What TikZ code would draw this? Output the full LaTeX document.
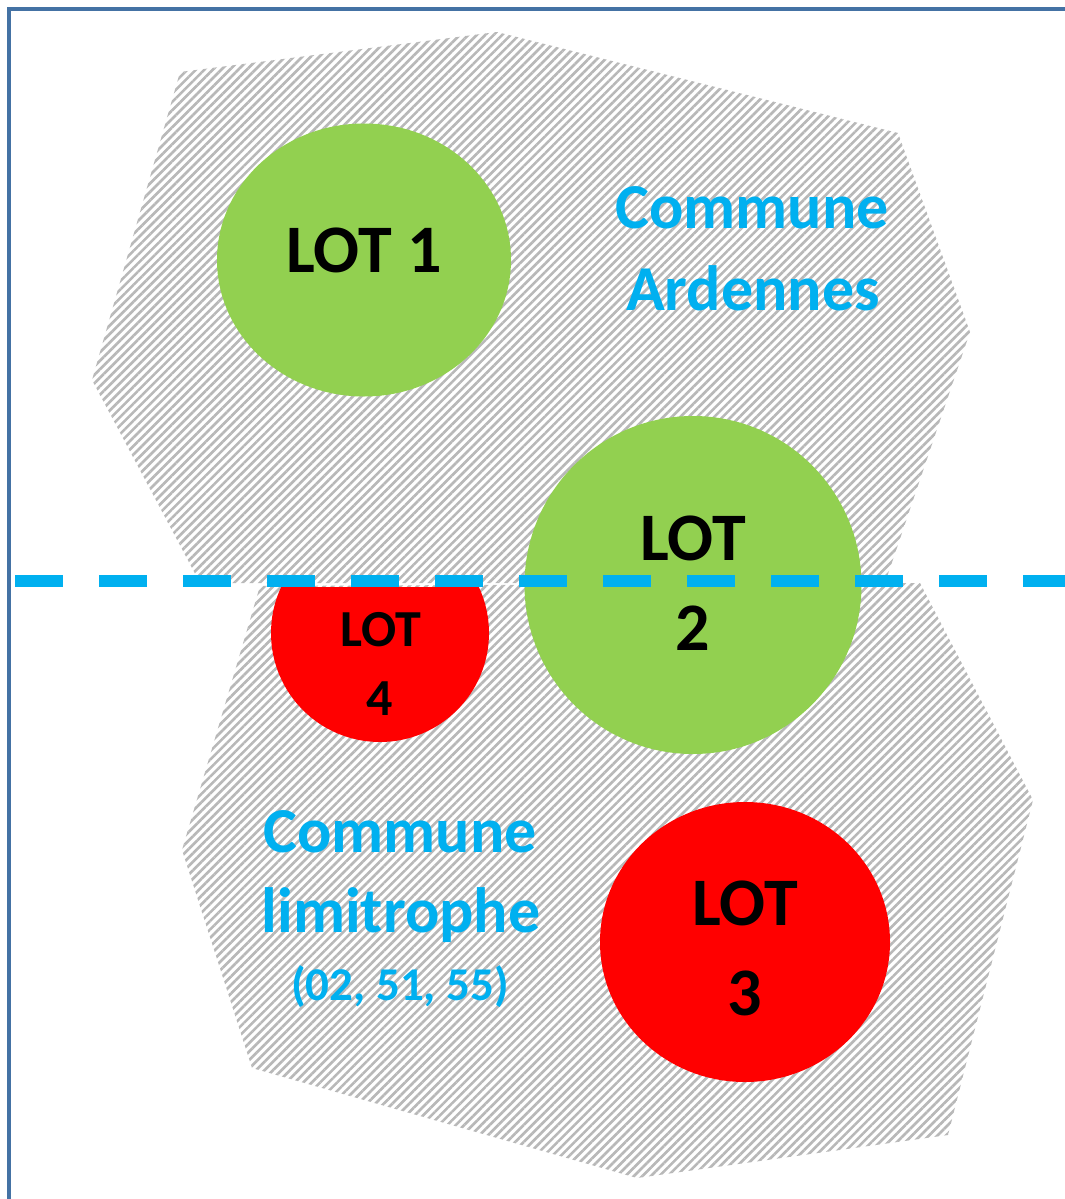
\documentclass[tikz,border=0pt]{standalone}
\usepackage{fontspec}
\setmainfont{Carlito}
\usetikzlibrary{patterns.meta,shapes.geometric}
\definecolor{frameblue}{RGB}{68,114,164}
\definecolor{lotgreen}{RGB}{146,208,80}
\definecolor{lotred}{RGB}{255,0,0}
\definecolor{cyanblue}{RGB}{0,176,240}
\begin{document}
\begin{tikzpicture}[x=1pt,y=-1pt,
  zone/.style={pattern={Lines[angle=45,distance=6pt,line width=2.6pt]},pattern color=black!28},
  lot/.style={ellipse,inner sep=0pt,draw=none},
  lottext/.style={anchor=base,font=\bfseries\fontsize{68}{80}\selectfont,text=black,inner sep=0pt},
  lotsmall/.style={anchor=base,font=\bfseries\fontsize{52}{60}\selectfont,text=black,inner sep=0pt},
  zonetext/.style={anchor=base,font=\bfseries\fontsize{64}{80}\selectfont,text=cyanblue,inner sep=0pt},
  zonesmall/.style={anchor=base,font=\bfseries\fontsize{47}{56}\selectfont,text=cyanblue,inner sep=0pt},
  sep/.style={draw=cyanblue,line width=12pt,dash pattern=on 48pt off 36pt}]
\useasboundingbox (0,0) rectangle (1065,1199);
\fill[white] (0,0) rectangle (1065,1199);
% frame
\coordinate (fa) at (9,1199);
\coordinate (fb) at (9,9);
\coordinate (fc) at (1065,9);
\draw[frameblue,line width=4pt] (fa) -- (fb) -- (fc);
% zones
\fill[zone] (180,72) -- (497,32) -- (898,133) -- (970,332) -- (885,583) -- (200,583) -- (92,380) -- cycle;
\fill[zone] (260,586) -- (920,583) -- (1033,800) -- (948,1135) -- (637,1178) -- (252,1068) -- (182,850) -- cycle;
% lots
\node[lot,fill=lotgreen,minimum width=294pt,minimum height=273pt] (lot1) at (364,260) {};
\node[lot,fill=lotgreen,minimum width=337pt,minimum height=338pt] (lot2) at (693,585) {};
\node[lot,fill=lotred,minimum width=290pt,minimum height=280pt] (lot3) at (745,942) {};
\begin{scope}
\clip (0,587) rectangle (1065,1199);
\node[lot,fill=lotred,minimum width=218pt,minimum height=218pt] (lot4) at (380,633) {};
\end{scope}
% separator
\coordinate (sl) at (15,581);
\coordinate (sr) at (1065,581);
\draw[sep] (sl) -- (sr);
% texts
\node[lottext] (t1) at (364,272) {LOT 1};
\node[lottext] (t2a) at (693,560) {LOT};
\node[lottext] (t2b) at (693,650) {2};
\node[lottext] (t3a) at (745,925) {LOT};
\node[lottext] (t3b) at (745,1015) {3};
\node[lotsmall] (t4a) at (381,646) {LOT};
\node[lotsmall] (t4b) at (380,715) {4};
\node[zonetext] (za1) at (752,228) {Commune};
\node[zonetext] (za2) at (753,310) {Ardennes};
\node[zonetext] (zl1) at (400,852) {Commune};
\node[zonetext] (zl2) at (401,932) {limitrophe};
\node[zonesmall] (zl3) at (400,1000) {(02, 51, 55)};
\end{tikzpicture}
\end{document}
